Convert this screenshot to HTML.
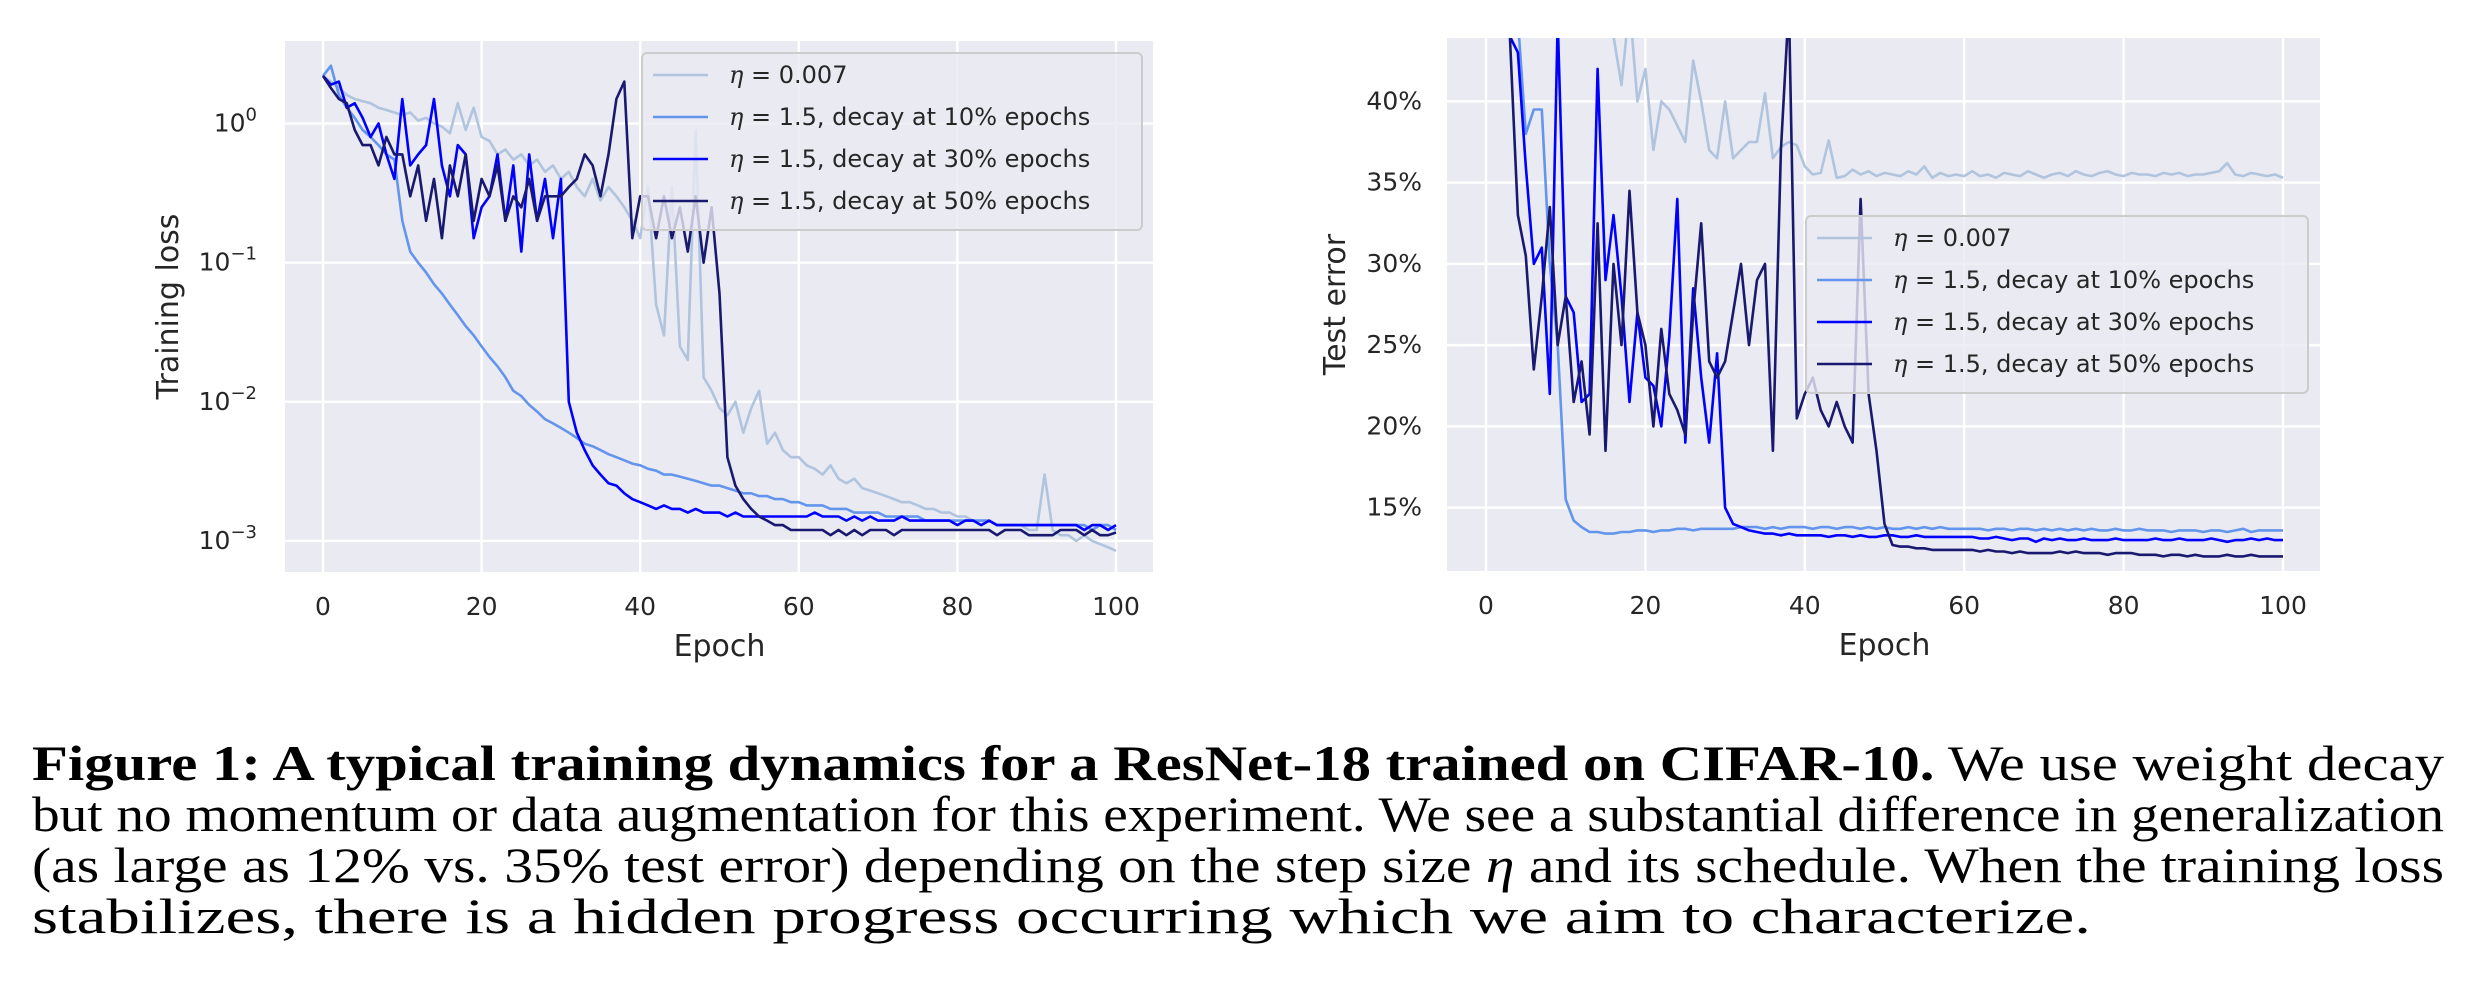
<!DOCTYPE html>
<html><head><meta charset="utf-8"><style>
html,body{margin:0;padding:0;background:#fff;}
body{width:2484px;height:1004px;overflow:hidden;position:relative;}
svg{position:absolute;left:0;top:0;}
.cap{position:absolute;left:32px;font-family:"Liberation Serif",serif;font-size:50px;line-height:51px;color:#000;white-space:nowrap;transform-origin:0 0;}
</style></head><body>
<svg id="fig" width="2484" height="700"></svg>
<div class="cap" style="top:738px" data-w="2412"><b>Figure 1: A typical training dynamics for a ResNet-18 trained on CIFAR-10.</b> We use weight decay</div>
<div class="cap" style="top:789px" data-w="2412">but no momentum or data augmentation for this experiment. We see a substantial difference in generalization</div>
<div class="cap" style="top:840px" data-w="2412">(as large as 12% vs. 35% test error) depending on the step size <i>η</i> and its schedule. When the training loss</div>
<div class="cap" style="top:891px" data-w="2059">stabilizes, there is a hidden progress occurring which we aim to characterize.</div>
<script>
const epochs = Array.from({length:101},(_, i)=>i);
const lossA = [2.2,2.0,1.8,1.6,1.5,1.45,1.4,1.3,1.25,1.2,
1.15,1.2,1.05,1.1,1.0,0.95,0.85,1.4,0.9,1.3,
0.8,0.75,0.6,0.65,0.55,0.6,0.5,0.55,0.45,0.5,
0.4,0.45,0.35,0.3,0.4,0.28,0.35,0.3,0.25,0.2,
0.15,0.35,0.05,0.03,0.35,0.025,0.02,0.9,0.015,0.012,
0.009,0.008,0.01,0.006,0.009,0.012,0.005,0.006,0.0045,0.004,
0.004,0.0035,0.0033,0.003,0.0035,0.0028,0.0026,0.0028,0.0024,0.0023,
0.0022,0.0021,0.002,0.0019,0.0019,0.0018,0.0017,0.0017,0.0016,0.0016,
0.0015,0.0015,0.0014,0.0014,0.0014,0.0013,0.0013,0.0013,0.0013,0.0012,
0.0012,0.003,0.0012,0.0011,0.0011,0.001,0.0011,0.001,0.00095,0.0009,
0.00085];
const lossB = [2.2,2.6,1.6,1.3,1.1,0.9,0.8,0.7,0.6,0.55,
0.2,0.12,0.1,0.085,0.07,0.06,0.05,0.042,0.035,0.03,
0.025,0.021,0.018,0.015,0.012,0.011,0.0095,0.0085,0.0075,0.007,
0.0065,0.006,0.0055,0.005,0.0048,0.0045,0.0042,0.004,0.0038,0.0036,
0.0035,0.0033,0.0032,0.003,0.003,0.0029,0.0028,0.0027,0.0026,0.0025,
0.0025,0.0024,0.0023,0.0022,0.0022,0.0021,0.0021,0.002,0.002,0.0019,
0.0019,0.0018,0.0018,0.0018,0.0017,0.0017,0.0017,0.0016,0.0016,0.0016,
0.0016,0.0015,0.0015,0.0015,0.0015,0.0015,0.0014,0.0014,0.0014,0.0014,
0.0014,0.0014,0.0014,0.0014,0.0014,0.0013,0.0013,0.0013,0.0013,0.0013,
0.0013,0.0013,0.0013,0.0013,0.0013,0.0013,0.0013,0.0012,0.0013,0.0013,
0.0012];
const lossC = [2.2,1.9,2.0,1.3,1.4,1.1,0.8,1.0,0.6,0.4,
1.5,0.5,0.6,0.7,1.5,0.5,0.3,0.7,0.6,0.15,
0.25,0.3,0.6,0.2,0.5,0.12,0.6,0.2,0.4,0.15,
0.4,0.01,0.006,0.0045,0.0035,0.003,0.0026,0.0025,0.0022,0.002,
0.0019,0.0018,0.0017,0.0018,0.0017,0.0017,0.0016,0.0017,0.0016,0.0016,
0.0016,0.0015,0.0016,0.0015,0.0015,0.0015,0.0015,0.0015,0.0015,0.0015,
0.0015,0.0015,0.0016,0.0015,0.0015,0.0015,0.0014,0.0015,0.0014,0.0015,
0.0014,0.0014,0.0014,0.0015,0.0014,0.0014,0.0014,0.0014,0.0014,0.0014,
0.0013,0.0014,0.0014,0.0013,0.0014,0.0013,0.0013,0.0013,0.0013,0.0013,
0.0013,0.0013,0.0013,0.0013,0.0013,0.0013,0.0012,0.0013,0.0013,0.0012,
0.0013];
const lossD = [2.2,1.8,1.5,1.4,0.9,0.7,0.7,0.5,0.8,0.6,
0.6,0.3,0.5,0.2,0.4,0.15,0.5,0.3,0.6,0.2,
0.4,0.3,0.5,0.2,0.3,0.25,0.4,0.2,0.3,0.3,
0.3,0.35,0.4,0.6,0.5,0.3,0.6,1.5,2.0,0.15,
0.3,0.3,0.15,0.3,0.15,0.25,0.12,0.3,0.1,0.25,
0.06,0.004,0.0025,0.002,0.0017,0.0015,0.0014,0.0013,0.0013,0.0012,
0.0012,0.0012,0.0012,0.0012,0.0011,0.0012,0.0011,0.0012,0.0011,0.0012,
0.0012,0.0012,0.0011,0.0012,0.0012,0.0012,0.0012,0.0012,0.0012,0.0012,
0.0012,0.0012,0.0012,0.0012,0.0012,0.0011,0.0012,0.0012,0.0012,0.0011,
0.0011,0.0011,0.0011,0.0012,0.0012,0.0012,0.0011,0.0012,0.0011,0.0011,
0.00115];
const errA = [90,85,80,75,70,65,60,58,55,52,
50,48,47,46,45,45,44,41,46,40,
42,37,40,39.5,38.5,37.5,42.5,40,37,36.5,
40,36.5,37,37.5,37.5,40.5,36.5,37.2,37.5,37.3,
36,35.5,35.6,37.6,35.3,35.4,35.8,35.5,35.7,35.4,
35.6,35.5,35.4,35.7,35.5,36,35.3,35.6,35.4,35.5,
35.4,35.7,35.4,35.5,35.3,35.6,35.5,35.4,35.7,35.5,
35.3,35.5,35.6,35.4,35.7,35.5,35.4,35.6,35.7,35.5,
35.4,35.6,35.5,35.5,35.4,35.6,35.5,35.6,35.4,35.5,
35.5,35.6,35.7,36.2,35.5,35.4,35.6,35.5,35.4,35.5,
35.3];
const errB = [90,70,60,50,45,38,39.5,39.5,30,25,
15.5,14.2,13.8,13.5,13.5,13.4,13.4,13.5,13.5,13.6,
13.6,13.5,13.6,13.6,13.7,13.7,13.6,13.7,13.7,13.7,
13.7,13.7,13.8,13.8,13.8,13.7,13.8,13.7,13.8,13.8,
13.8,13.7,13.8,13.8,13.7,13.8,13.8,13.7,13.8,13.7,
13.8,13.7,13.7,13.8,13.7,13.8,13.7,13.8,13.7,13.7,
13.7,13.7,13.7,13.6,13.7,13.7,13.6,13.7,13.7,13.6,
13.7,13.6,13.7,13.6,13.7,13.6,13.7,13.6,13.6,13.7,
13.6,13.6,13.7,13.6,13.6,13.6,13.5,13.6,13.6,13.6,
13.5,13.6,13.6,13.5,13.6,13.7,13.5,13.6,13.6,13.6,
13.6];
const errC = [90,70,48,44,43,36,30,31,22,45,
28,27,21.5,22,42,29,33,28,21.5,27,
23,22.5,20,25.5,34,19,28.5,23,19,24.5,
15,14,13.8,13.6,13.5,13.4,13.4,13.3,13.4,13.3,
13.3,13.3,13.3,13.2,13.3,13.3,13.2,13.3,13.2,13.2,
13.3,13.3,13.2,13.2,13.3,13.2,13.2,13.2,13.2,13.2,
13.2,13.2,13.1,13.1,13.2,13.1,13.0,13.1,13.1,12.9,
13.1,13.0,13.1,13.0,13.0,13.1,13.0,13.0,13.0,13.1,
13.0,13.0,13.0,13.0,13.1,13.0,13.0,13.1,13.0,13.0,
13.0,13.1,13.0,12.9,13.0,13.0,13.1,13.0,13.1,13.0,
13.0];
const errD = [90,80,60,44,33,30.5,23.5,28,33.5,25,
28,21.5,24,19.5,32.5,18.5,30,25,34.5,27,
25,20,26,22,21,19.5,27,32.5,24,23,
24,27,30,25,29,30,18.5,37,46,20.5,
22,23,21,20,21.5,20,19,34,22,18.5,
14,12.7,12.6,12.6,12.5,12.5,12.4,12.4,12.4,12.4,
12.4,12.4,12.3,12.4,12.3,12.3,12.2,12.3,12.2,12.2,
12.2,12.2,12.3,12.2,12.3,12.2,12.2,12.2,12.1,12.2,
12.2,12.2,12.1,12.1,12.1,12.0,12.1,12.1,12.0,12.1,
12.0,12.0,12.0,12.1,12.0,12.0,12.1,12.0,12.0,12.0,
12.0];
const xTicks = [0,20,40,60,80,100];
const lossTickExp = [0,-1,-2,-3];
const errTicks = [15,20,25,30,35,40];
const seriesNames = ["η = 0.007","η = 1.5, decay at 10% epochs","η = 1.5, decay at 30% epochs","η = 1.5, decay at 50% epochs"];
const colors = ["#b0c4de","#6495ed","#0000ff","#191970"];

const NS="http://www.w3.org/2000/svg";
const svg=document.getElementById('fig');
function mk(tag,attrs,parent){const e=document.createElementNS(NS,tag);for(const k in attrs)e.setAttribute(k,attrs[k]);(parent||svg).appendChild(e);return e;}

function drawPanel(cfg){
  const g=mk('g',{});
  
  
  const bg=mk('rect',{x:cfg.L,y:cfg.T,width:cfg.R-cfg.L,height:cfg.B-cfg.T,fill:'#eaeaf2'},g);
  
  
  const xs=v=>cfg.x0+(cfg.x100-cfg.x0)*v/100;
  xTicks.forEach(t=>{
    const l=mk('line',{x1:xs(t),x2:xs(t),y1:cfg.T,y2:cfg.B,stroke:'#fff','stroke-width':2.4},g);
    
    
    const tx=mk('text',{x:xs(t),y:cfg.B+43,'text-anchor':'middle','font-size':25,fill:'#262626','font-family':'DejaVu Sans, Liberation Sans, sans-serif'},g);
    tx.textContent=t;
    
    
  });
  cfg.yTicks.forEach(t=>{
    const y=cfg.ys(t.v);
    const l=mk('line',{x1:cfg.L,x2:cfg.R,y1:y,y2:y,stroke:'#fff','stroke-width':2.4},g);
    
    
    const tx=mk('text',{x:cfg.tickRight,y:y+8,'text-anchor':'end','font-size':25,fill:'#262626','font-family':'DejaVu Sans, Liberation Sans, sans-serif'},g);
    if(t.sup!==undefined){
      tx.appendChild(document.createTextNode('10'));
      const s=mk('tspan',{dy:-11,'font-size':18},tx);s.textContent=t.sup;
    } else tx.textContent=t.label;
    
    
  });
  const clipId='clip'+cfg.name;
  const cp=mk('clipPath',{id:clipId},g);mk('rect',{x:cfg.L,y:cfg.T,width:cfg.R-cfg.L,height:cfg.B-cfg.T},cp);
  const lg=mk('g',{'clip-path':'url(#'+clipId+')'},g);
  cfg.series.forEach((arr,i)=>{
    const d=arr.map((v,j)=>(j?'L':'M')+xs(epochs[j]).toFixed(1)+','+cfg.ys(v).toFixed(1)).join(' ');
    const p=mk('path',{d:d,fill:'none',stroke:colors[i],'stroke-width':2.6,'stroke-linejoin':'round'},lg);
    
    
  });
  const lgd=mk('g',{},g);
  
  
  mk('rect',{x:cfg.lx,y:cfg.ly,width:cfg.lw,height:177,rx:5,fill:'rgba(234,234,242,0.8)',stroke:'#cccccc','stroke-width':2},lgd);
  seriesNames.forEach((n,i)=>{
    const y=cfg.ly+22+i*42;
    const en=mk('g',{},lgd);
    
    
    mk('line',{x1:cfg.lx+11,x2:cfg.lx+66,y1:y,y2:y,stroke:colors[i],'stroke-width':2.6},en);
    const t=mk('text',{x:cfg.lx+87,y:y+8,'font-size':24,fill:'#262626','font-family':'DejaVu Sans, Liberation Sans, sans-serif'},en);
    const e=mk('tspan',{'font-style':'italic','font-family':'DejaVu Serif, serif'},t);e.textContent='η';
    const r=mk('tspan',{},t);r.textContent=n.slice(1);
  });
  const xl=mk('text',{x:(cfg.x0+cfg.x100)/2,y:cfg.B+84,'text-anchor':'middle','font-size':30,fill:'#262626','font-family':'DejaVu Sans, Liberation Sans, sans-serif'},g);
  xl.textContent='Epoch';
  
  
  const yl=mk('text',{x:0,y:0,'text-anchor':'middle','font-size':30,fill:'#262626','font-family':'DejaVu Sans, Liberation Sans, sans-serif',transform:'translate('+(cfg.ylx)+','+((cfg.T+cfg.B)/2)+') rotate(-90)'},g);
  yl.textContent=cfg.ylabel;
  
  
}

const lTop=0.593,lBot=-3.223;
drawPanel({name:'training-loss-chart',L:285,R:1153,T:41,B:572,x0:323,x100:1116,
  ys:v=>41+(lTop-Math.log10(v))/(lTop-lBot)*(572-41),
  yTicks:lossTickExp.map(e=>({v:Math.pow(10,e),sup:e===0?'0':'−'+(-e)})),
  tickRight:257,series:[lossA,lossB,lossC,lossD],lx:642,ly:53,lw:500,ylx:178,ylabel:'Training loss'});
const eTop=43.9,eBot=11.1;
drawPanel({name:'test-error-chart',L:1447,R:2320,T:38,B:571,x0:1486,x100:2283,
  ys:v=>38+(eTop-v)/(eTop-eBot)*(571-38),
  yTicks:errTicks.map(v=>({v:v,label:v+'%'})),
  tickRight:1422,series:[errA,errB,errC,errD],lx:1806,ly:216,lw:502,ylx:1345,ylabel:'Test error'});

document.querySelectorAll('.cap').forEach(el=>{
  const w=el.getBoundingClientRect().width;
  const target=+el.getAttribute('data-w');
  el.style.transform='scaleX('+(target/w)+')';
});
</script>
</body></html>
